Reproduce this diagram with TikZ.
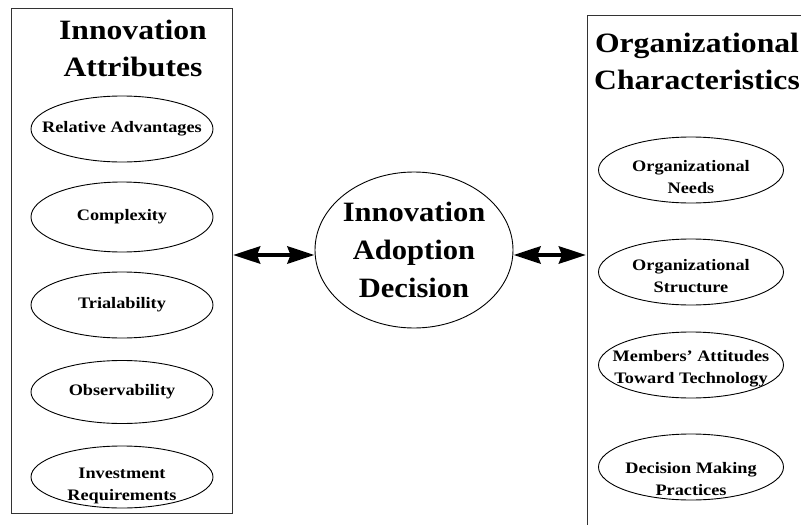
\documentclass[tikz,border=0pt]{standalone}
\usepackage{fontspec}
\setmainfont{Liberation Serif}
\usetikzlibrary{shapes.geometric,arrows.meta,calc}
\newcommand{\hsw}[1]{\scalebox{1.13}[1]{#1}}
\newcommand{\hse}[1]{\scalebox{1.14}[1]{#1}}
\begin{document}
\begin{tikzpicture}[x=1pt,y=-1pt,
  panel/.style={draw=black!80, line width=1pt},
  oval/.style={draw, ellipse, line width=0.9pt, minimum width=182pt, minimum height=66pt, inner sep=0pt},
  otxt/.style={font=\bfseries\fontsize{16}{22}\selectfont, align=center},
  ttl/.style={font=\bfseries\fontsize{28}{37}\selectfont, align=center},
  dbl/.style={line width=4.5pt, {Stealth[length=27pt,width=17pt,inset=3pt]}-{Stealth[length=27pt,width=17pt,inset=3pt]}}
]
\useasboundingbox (0,0) rectangle (801,525);
% panels
\draw[panel] (11,8) rectangle (232,513);
\draw[panel] (587,15) -- (830,15);
\draw[panel] (587,15) -- (587,530);
\node[ttl] (lt) at (133,48) {\hsw{Innovation}\\\hsw{Attributes}};
\node[ttl] (rt) at (697,61) {\hsw{Organizational}\\\hsw{Characteristics}};
% left ovals
\node[oval] (ra) at (122,129) {};
\node[otxt] at (ra) {\hse{Relative Advantages}};
\node[oval, minimum height=70pt] (cx) at (122,217) {};
\node[otxt] at (cx) {\hse{Complexity}};
\node[oval] (tr) at (122,305) {};
\node[otxt] at (tr) {\hse{Trialability}};
\node[oval, minimum height=63pt] (ob) at (122,392) {};
\node[otxt] at (ob) {\hse{Observability}};
\node[oval, minimum height=62pt] (ir) at (122,477) {};
\node[otxt] at ($(ir)+(0,9)$) {\hse{Investment}\\\hse{Requirements}};
% right ovals
\node[oval, minimum width=185pt] (on) at (691,170) {};
\node[otxt] at ($(on)+(0,7)$) {\hse{Organizational}\\\hse{Needs}};
\node[oval, minimum width=185pt] (os) at (691,272) {};
\node[otxt] at ($(os)+(0,4)$) {\hse{Organizational}\\\hse{Structure}};
\node[oval, minimum width=185pt] (ma) at (691,365) {};
\node[otxt] at ($(ma)+(0,4)$) {\hse{Members’ Attitudes}\\\hse{Toward Technology}};
\node[oval, minimum width=185pt] (dm) at (691,467) {};
\node[otxt] at ($(dm)+(0,12)$) {\hse{Decision Making}\\\hse{Practices}};
% center
\node[draw, ellipse, line width=0.9pt, minimum width=198pt, minimum height=156pt, inner sep=0pt] (iad) at (414,250) {};
\node[font=\bfseries\fontsize{28}{38}\selectfont, align=center] at ($(iad)+(0,0)$) {\scalebox{1.09}[1]{Innovation}\\\scalebox{1.09}[1]{Adoption}\\\scalebox{1.09}[1]{Decision}};
% arrows
\coordinate (la) at (233,255);
\coordinate (ra2) at (586,255);
\draw[dbl] (la) -- (iad.west |- la);
\draw[dbl] (iad.east |- ra2) -- (ra2);
\end{tikzpicture}
\end{document}
